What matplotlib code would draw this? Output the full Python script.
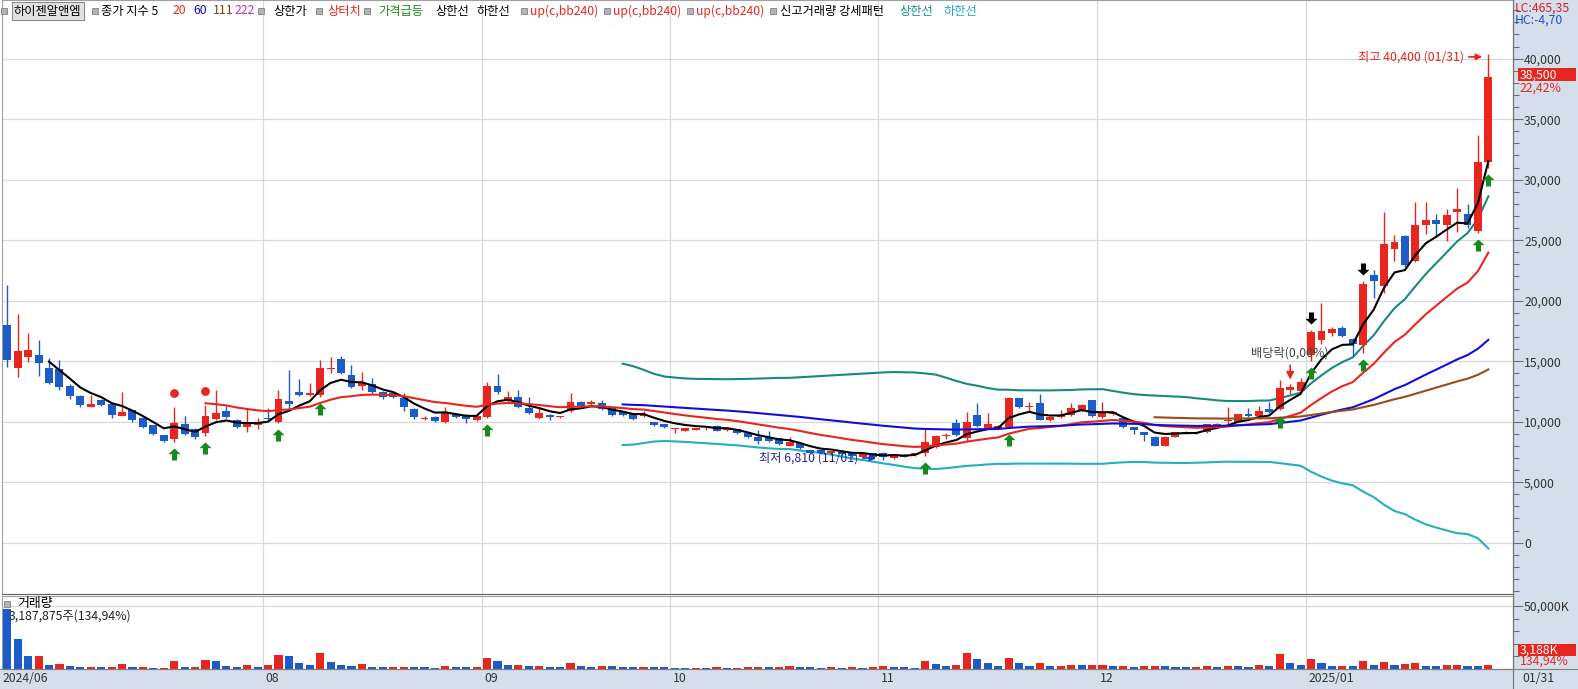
import numpy as np
import matplotlib.pyplot as plt
from matplotlib.path import Path
from matplotlib.patches import Rectangle
from matplotlib.transforms import offset_copy

plt.rcParams['font.family'] = ['Noto Sans CJK KR', 'DejaVu Sans']

W, H = 1578, 689
FS = 8.8

# daily candles, 2024/06 (late) .. 2025/01/31
opens = [17960, 14450, 15360, 15500, 14400, 14340, 12940, 12110, 11230, 11780,
         11450, 10490, 10960, 10320, 9720, 8890, 8540, 9770, 9390, 9030,
         10210, 10900, 10130, 9530, 9750,
         10330, 10000, 11710, 12480, 12210, 12210, 14350, 15160, 13860, 12950,
         13100, 12420, 12330, 11920, 11090, 10250, 10350, 9940, 10630, 10540, 10130,
         10400, 12940, 11780, 12050, 11150, 10270, 10540, 10380, 10870, 11610,
         11450, 11560, 11180, 10810, 10680, 10460, 9990, 9800,
         9400, 9250, 9350, 9440, 9630, 9300, 9360, 9080, 8700, 8700,
         8620, 7980, 8210, 7650, 7650, 7380, 7500, 7450, 7100, 7380,
         7430, 7000, 7250, 7240, 7430, 7930, 8780, 9910, 8620, 10540, 9440,
         9500, 9530, 11920, 11200, 11510, 10130, 10350, 10540, 10960, 11780,
         10350, 10600, 10320, 9580, 9120, 8750, 8010, 8750, 9090, 9030,
         9160, 9640, 10030, 9990, 10650, 10480, 11010, 11010, 12660, 12550,
         15540, 16790, 17290, 17750, 16820, 16320, 22100, 21190, 24300, 25320,
         23280, 26230, 26700, 26230, 27330, 27190, 25800, 31450]
highs = [21270, 18940, 17370, 16730, 15300, 15080, 13100, 12200, 12190, 11900,
         11500, 12420, 11000, 10400, 9750, 8900, 11180, 10500, 9450, 11400,
         12600, 11300, 10200, 11050, 10300,
         11130, 12600, 14270, 13500, 13170, 15100, 15370, 15430, 14690, 14120,
         13600, 12500, 12400, 12400, 11100, 10500, 10500, 11200, 10700, 10600, 10600,
         13290, 13930, 12500, 12600, 12000, 11200, 10600, 10500, 12330, 11700,
         11800, 11800, 11200, 10900, 10700, 10900, 10000, 9850,
         9500, 9500, 9500, 9600, 9700, 9500, 9400, 9100, 9300, 9200,
         8650, 8700, 8250, 7700, 7700, 7600, 7550, 7500, 7450, 7400,
         7500, 7350, 7300, 7400, 9440, 8900, 9100, 10230, 10820, 11510, 10700,
         9700, 12000, 11950, 11650, 12280, 10400, 11000, 11550, 11500, 11800,
         11600, 10850, 10350, 9600, 9150, 8800, 8800, 9150, 9200, 9150,
         9800, 9900, 11200, 10650, 11100, 11300, 11600, 13430, 13100, 13600,
         17600, 19810, 17800, 17900, 16900, 21600, 22500, 27330, 25400, 25400,
         28150, 28150, 27200, 27600, 29340, 27950, 33700, 40400]
lows = [14480, 13700, 14940, 13790, 13100, 12660, 11900, 11200, 11200, 11300,
        10300, 10450, 10000, 9500, 8900, 8300, 8340, 8900, 8600, 8800,
        10100, 10300, 9500, 9150, 9400,
        10150, 9870, 10970, 12150, 12150, 12070, 14000, 13950, 12800, 12620,
        12400, 11900, 11950, 10900, 10200, 10100, 10000, 9900, 10300, 9900, 10050,
        10300, 12300, 11600, 11100, 10600, 10200, 10100, 10300, 10800, 11200,
        11400, 11000, 10500, 10450, 10100, 10400, 9650, 9450,
        9050, 9200, 9300, 9350, 9200, 9250, 9000, 8650, 8150, 8350,
        8100, 7950, 7750, 7400, 7350, 7350, 7250, 7100, 7050, 6950,
        6810, 6950, 7050, 7200, 7200, 7850, 8600, 8800, 8300, 9550, 9400,
        9450, 9450, 11100, 10800, 10100, 10050, 10300, 10500, 10900, 10400,
        10300, 10550, 9500, 9000, 8400, 8000, 7950, 8700, 9000, 8950,
        9100, 9600, 9800, 9950, 10400, 10450, 10700, 10950, 12300, 12500,
        15000, 16450, 17100, 17000, 15400, 15700, 20200, 20600, 23300, 22800,
        23200, 25500, 25300, 24900, 25700, 26000, 25600, 31000]
closes = [15090, 15830, 15910, 14810, 13160, 12880, 12140, 11370, 11450, 11370,
          10540, 10820, 10130, 9580, 8980, 8420, 9910, 8950, 8700, 10460,
          10680, 10400, 9580, 9800, 9900,
          10220, 11850, 11440, 12210, 12400, 14410, 14420, 14000, 12890, 13220,
          12470, 12000, 12000, 11230, 10400, 10290, 10070, 10820, 10350, 10190, 10460,
          12940, 12470, 12050, 11230, 10730, 10730, 10350, 10420, 11610, 11290,
          11610, 11090, 10540, 10540, 10210, 10630, 9720, 9530,
          9480, 9450, 9450, 9470, 9250, 9450, 9030, 8700, 8420, 8400,
          8150, 8340, 7790, 7430, 7380, 7550, 7300, 7150, 7380, 7050,
          7050, 7300, 7100, 7380, 8340, 8810, 8820, 8890, 9940, 9630, 9780,
          9650, 11920, 11230, 11250, 10130, 10350, 10540, 11150, 11420, 10460,
          10770, 10770, 9530, 9300, 8920, 8010, 8750, 9110, 9130, 9070,
          9780, 9850, 10070, 10600, 10460, 10870, 10770, 12750, 12880, 13290,
          17400, 17480, 17620, 17090, 16460, 21410, 21630, 24720, 24850, 22930,
          26230, 26700, 26370, 27050, 27600, 26230, 31450, 38500]
# volume in thousand shares
volumes = [47600, 24000, 10200, 10200, 3100, 3900, 2300, 1300, 1600, 1300,
           1600, 3900, 1300, 1300, 800, 800, 6200, 1300, 1300, 7000,
           6200, 2300, 1300, 2900, 1300,
           2900, 10900, 10200, 4900, 3100, 12700, 5700, 3100, 2300, 3900,
           1300, 1200, 1200, 1600, 1400, 1200, 1100, 2500, 1500, 1300, 1400,
           8500, 6000, 3000, 3200, 2000, 2100, 1500, 1300, 4800, 2500,
           1800, 2200, 2000, 1500, 1400, 1600, 1300, 1200,
           1100, 900, 1000, 800, 1200, 900, 1100, 1300, 1500, 1200,
           1400, 2000, 1500, 1300, 1100, 1200, 1000, 1300, 1100, 1400,
           2000, 1500, 1200, 1000, 6000, 4000, 2000, 3000, 12500, 8000, 5000,
           2000, 9000, 5000, 2500, 4500, 2000, 2200, 3500, 2800, 3000,
           3500, 2000, 2500, 1500, 2000, 2500, 2200, 1500, 1200, 1300,
           2000, 1500, 2500, 2000, 1800, 3000, 2000, 12000, 5000, 3000,
           8000, 4500, 2000, 2500, 2000, 6500, 3500, 5500, 3000, 4000,
           4500, 2500, 2000, 3000, 3500, 2500, 2362, 3188]

month_labels = ['2024/06', '08', '09', '10', '11', '12', '2025/01']
month_starts = [0, 25, 46, 64, 84, 105, 125]

surge_idx = [16, 19, 26, 30, 46, 88, 96, 122, 125, 130, 141, 142]   # 가격급등
touch_idx = [16, 19]                                               # 상터치
newvol_idx = [125, 130]                                            # 신고거래량 강세패턴
exdiv_idx = 123                                                    # 배당락
ma_periods = [5, 20, 60, 111, 222]
ma_colors = ['black', '#E8251E', '#1010D8', '#9C4A1A', '#CC33CC']

RED = '#E8251E'
BLUE = '#1C5CC8'
PANEL = '#D5DFEC'
GRID = '#D9D9D9'


def ema(vals, n):
    out = np.full(len(vals), np.nan)
    if len(vals) < n:
        return out
    out[n - 1] = np.mean(vals[:n])
    a = 2.0 / (n + 1)
    for i in range(n, len(vals)):
        out[i] = a * vals[i] + (1 - a) * out[i - 1]
    return out


o = np.array(opens, float)
h = np.array(highs, float)
l = np.array(lows, float)
c = np.array(closes, float)
v = np.array(volumes, float)
n = len(c)
x = np.arange(n)

# x pixel = 7.3 + 10.43 * i
def px2x(px):
    return (px - 7.3) / 10.43

fig = plt.figure(figsize=(W / 100, H / 100), dpi=100)
fig.patch.set_facecolor('white')

# right price panel and bottom date band (behind the axes)
fig.patches.append(Rectangle((1513 / W, 0), 65 / W, 1, transform=fig.transFigure,
                             facecolor=PANEL, edgecolor='none', zorder=-5))
fig.patches.append(Rectangle((0, 0), 1513 / W, 20 / H, transform=fig.transFigure,
                             facecolor=PANEL, edgecolor='none', zorder=-5))

ax = fig.add_axes([2 / W, 1 - 594 / H, 1511 / W, 594 / H])
axv = fig.add_axes([2 / W, 1 - 669 / H, 1511 / W, 73 / H])

xlim = (px2x(2), px2x(1513))

# ---- price panel ----
ax.set_xlim(*xlim)
ax.set_ylim(-4240, 44850)
ax.set_facecolor('white')
for yv in range(0, 40001, 5000):
    ax.axhline(yv, color=GRID, lw=0.9, zorder=0)
for ms in month_starts[1:]:
    ax.axvline(ms - 0.5, color=GRID, lw=0.9, zorder=0)
    axv.axvline(ms - 0.5, color=GRID, lw=0.9, zorder=0)

# bollinger (sma 60, 2 sd)
bb_n = 60
mid = np.full(n, np.nan)
sd = np.full(n, np.nan)
for i in range(bb_n - 1, n):
    w = c[i - bb_n + 1:i + 1]
    mid[i] = w.mean()
    sd[i] = w.std()
ax.plot(x, mid + 2 * sd, color='#178A80', lw=1.5, zorder=2)
ax.plot(x, mid - 2 * sd, color='#22AFC0', lw=1.5, zorder=2)

# candles
up = c >= o
cols = np.where(up, RED, BLUE)
ax.vlines(x, l, h, colors=cols, lw=1.0, zorder=3)
body_lo = np.minimum(o, c)
body_h = np.maximum(np.abs(c - o), 80)
ax.bar(x, body_h, bottom=body_lo, width=0.76, color=cols, lw=0, zorder=4)

# moving averages
for p, col in zip(ma_periods, ma_colors):
    ax.plot(x, ema(c, p), color=col, lw=1.5, zorder=5)

# markers
arrow_up = Path([(0, 1), (1, 0.05), (0.42, 0.05), (0.42, -1), (-0.42, -1),
                 (-0.42, 0.05), (-1, 0.05), (0, 1)], closed=True)
arrow_dn = Path([(0, -1), (1, -0.05), (0.42, -0.05), (0.42, 1), (-0.42, 1),
                 (-0.42, -0.05), (-1, -0.05), (0, -1)], closed=True)
below = offset_copy(ax.transData, fig=fig, x=0, y=-12, units='dots')
above = offset_copy(ax.transData, fig=fig, x=0, y=12, units='dots')
above_dot = offset_copy(ax.transData, fig=fig, x=0, y=14, units='dots')
ax.scatter(surge_idx, l[surge_idx], marker=arrow_up, s=75, color='#178A1E',
           transform=below, zorder=6, lw=0)
ax.scatter(newvol_idx, h[newvol_idx], marker=arrow_dn, s=75, color='black',
           transform=above, zorder=6, lw=0)
ax.scatter(touch_idx, h[touch_idx], marker='o', s=40, color=RED,
           transform=above_dot, zorder=6, lw=0)

# ex-dividend mark
ax.annotate('', xy=(exdiv_idx, h[exdiv_idx] + 150), xytext=(exdiv_idx, 14900),
            arrowprops=dict(arrowstyle='-|>', color=RED, lw=1.2, mutation_scale=11),
            zorder=6)
ax.text(exdiv_idx, 15700, '배당락(0,00%)', color='#444444', fontsize=FS,
        ha='center', va='center', zorder=7)

# high / low annotations
ax.text(px2x(1464), 40150, '최고 40,400 (01/31)', color=RED, fontsize=FS,
        ha='right', va='center', zorder=7)
ax.annotate('', xy=(px2x(1485), 40150), xytext=(px2x(1466), 40150),
            arrowprops=dict(arrowstyle='-|>', color=RED, lw=1.2, mutation_scale=9))
ax.text(px2x(858), 7000, '최저 6,810 (11/01)', color='#25259A', fontsize=FS,
        ha='right', va='center', zorder=7)
ax.annotate('', xy=(px2x(879), 7000), xytext=(px2x(860), 7000),
            arrowprops=dict(arrowstyle='-|>', color='#2035C8', lw=1.2, mutation_scale=9),
            zorder=7)

# price axis on the right
ax.yaxis.tick_right()
ax.set_yticks(range(0, 40001, 5000))
ax.set_yticklabels([f'{t:,}' for t in range(0, 40001, 5000)])
ax.set_yticks(range(-4000, 44001, 1000), minor=True)
ax.tick_params(axis='y', which='major', length=7, width=0.8, color='#707070',
               labelsize=FS, labelcolor='#333333', pad=1)
ax.tick_params(axis='y', which='minor', length=4, width=0.8, color='#707070')
ax.set_xticks([])
for s in ['top', 'left']:
    ax.spines[s].set_color('#A0A0A0')
ax.spines['right'].set_color('#707070')
ax.spines['bottom'].set_color('#606060')

# ---- volume panel ----
axv.set_xlim(*xlim)
axv.set_ylim(0, 57900)
axv.axhline(50000, color=GRID, lw=0.9, zorder=0)
vcols = [BLUE] + [RED if v[i] >= v[i - 1] else BLUE for i in range(1, n)]
axv.bar(x, v, width=0.78, color=vcols, lw=0, zorder=3)
axv.yaxis.tick_right()
axv.set_yticks([50000])
axv.set_yticklabels(['50,000K'])
axv.set_yticks(range(10000, 50001, 10000), minor=True)
axv.tick_params(axis='y', which='major', length=7, width=0.8, color='#707070',
                labelsize=FS, labelcolor='#333333', pad=1)
axv.tick_params(axis='y', which='minor', length=4, width=0.8, color='#707070')
axv.set_xticks([])
for s in ['top', 'left']:
    axv.spines[s].set_color('#A0A0A0')
axv.spines['right'].set_color('#707070')
axv.spines['bottom'].set_color('#606060')


def ftext(px, py, s, **kw):
    kw.setdefault('fontsize', FS)
    kw.setdefault('va', 'center')
    return fig.text(px / W, 1 - py / H, s, **kw)


def square(px, py, size=6):
    fig.patches.append(Rectangle((px / W, 1 - (py + size / 2) / H), size / W, size / H,
                                 transform=fig.transFigure, facecolor='#B4B4B4',
                                 edgecolor='#808080', lw=0.6, zorder=10))


# legend row
square(1, 11)
ftext(14, 11, '하이젠알앤엠', color='black',
      bbox=dict(boxstyle='square,pad=0.18', facecolor='#E2E2E2', edgecolor='#8C8C8C', lw=0.8))
square(92, 11)
ftext(101, 11, '종가 지수 5', color='black')
ftext(173, 11, '20', color=RED)
ftext(193, 11, '60', color='#1515B0')
ftext(213, 11, '111', color='#8B3A10')
ftext(235, 11, '222', color='#C030C0')
square(258, 11)
ftext(273, 11, '상한가', color='black')
square(316, 11)
ftext(327, 11, '상터치', color=RED)
square(364, 11)
ftext(378, 11, '가격급등', color='#1E8A1E')
ftext(435, 11, '상한선', color='black')
ftext(477, 11, '하한선', color='black')
square(521, 11)
ftext(530, 11, 'up(c,bb240)', color=RED)
square(604, 11)
ftext(613, 11, 'up(c,bb240)', color=RED)
square(687, 11)
ftext(696, 11, 'up(c,bb240)', color=RED)
square(770, 11)
ftext(780, 11, '신고거래량 강세패턴', color='black')
ftext(899, 11, '상한선', color='#188E8A')
ftext(943, 11, '하한선', color='#22A6B8')

# volume labels
square(4, 604)
ftext(17, 603, '거래량', color='black', fontsize=9.3)
ftext(9, 616, '3,187,875주(134,94%)', color='#222222')

# right panel labels
ftext(1515, 8, 'LC:465,35', color='#D42020')
ftext(1515, 20, 'HC:-4,70', color='#2050C0')
fig.patches.append(Rectangle((1518 / W, 1 - 81 / H), 58 / W, 13 / H, transform=fig.transFigure,
                             facecolor='#E8251E', edgecolor='none', zorder=10))
ftext(1520, 75, '38,500', color='white', zorder=11)
ftext(1520, 88, '22,42%', color=RED)
fig.patches.append(Rectangle((1518 / W, 1 - 656 / H), 58 / W, 12 / H, transform=fig.transFigure,
                             facecolor='#E8251E', edgecolor='none', zorder=10))
ftext(1520, 650, '3,188K', color='white', zorder=11)
ftext(1520, 661, '134,94%', color=RED)

# date labels
for lab, ms in zip(month_labels, month_starts):
    px = 3 if ms == 0 else 7.3 + 10.43 * (ms - 0.5) + 3
    ftext(px, 679, lab, color='#333333')
ftext(1522, 679, '01/31', color='#333333')

# panel frame lines
fig.add_artist(plt.Line2D([1513 / W, 1513 / W], [0, 1], color='#707070', lw=0.8))
fig.add_artist(plt.Line2D([0, 1], [1 - 669 / H, 1 - 669 / H], color='#808080', lw=0.8))

fig.savefig('out.png', dpi=100)
